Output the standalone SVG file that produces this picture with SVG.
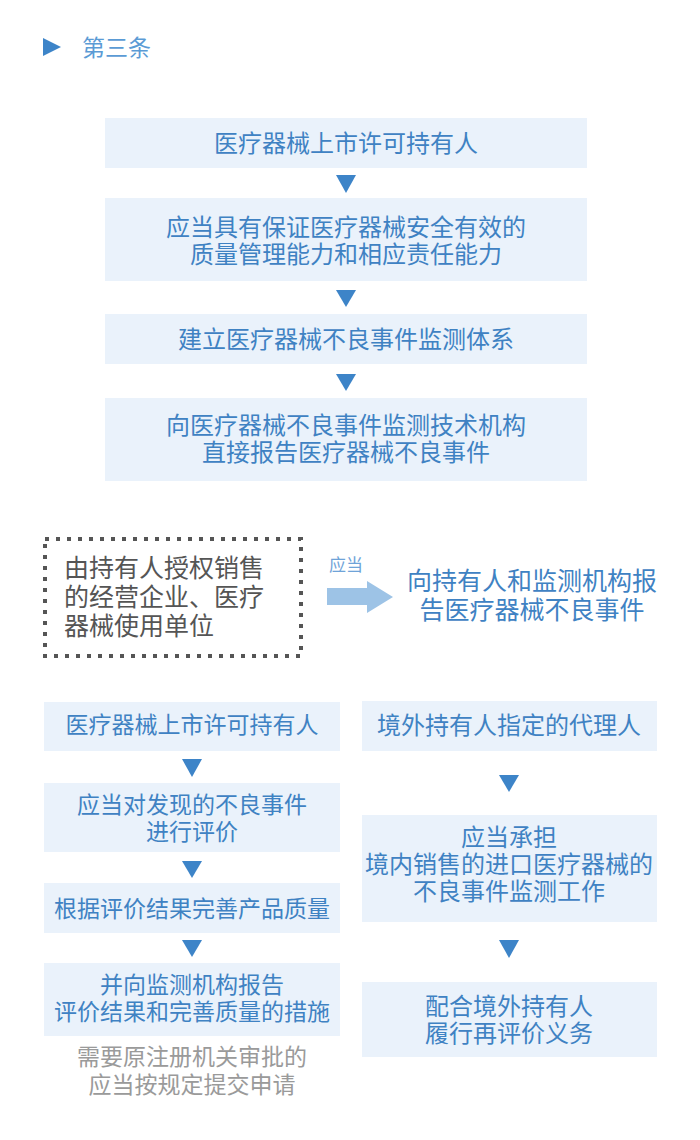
<svg xmlns="http://www.w3.org/2000/svg" width="700" height="1140" viewBox="0 0 700 1140">
<defs>
<style>
.box{fill:#eaf2fb}
.t{font-family:"Liberation Sans","Noto Sans CJK SC",sans-serif;font-size:23px;fill:#3f82c3;text-anchor:middle;dominant-baseline:central}
.tl{font-size:24px}
.tri{fill:#3d84c8}
.gray{fill:#9a9a9a}
.dark{fill:#555555;text-anchor:start;font-size:25px}
</style>
</defs>
<rect width="700" height="1140" fill="#ffffff"/>
<g id="title">
<polygon points="43,38 61,47 43,56" fill="#3d84c8"/>
<text class="t" x="82" y="48" style="text-anchor:start;fill:#5b9bd5">第三条</text>
</g>
<g id="n1"><rect class="box" x="105" y="118" width="482" height="50"/><text class="t tl" x="346" y="143">医疗器械上市许可持有人</text></g>
<g id="n2"><rect class="box" x="105" y="198" width="482" height="83"/><text class="t tl" x="346" y="227">应当具有保证医疗器械安全有效的</text><text class="t tl" x="346" y="254">质量管理能力和相应责任能力</text></g>
<g id="n3"><rect class="box" x="105" y="314" width="482" height="50"/><text class="t tl" x="346" y="339">建立医疗器械不良事件监测体系</text></g>
<g id="n4"><rect class="box" x="105" y="398" width="482" height="83"/><text class="t tl" x="346" y="425">向医疗器械不良事件监测技术机构</text><text class="t tl" x="346" y="452">直接报告医疗器械不良事件</text></g>
<g id="n5">
<rect x="45" y="539" width="256" height="117" fill="none" stroke="#555555" stroke-width="4" stroke-dasharray="4 7"/>
<text class="t dark" x="64" y="568">由持有人授权销售</text>
<text class="t dark" x="64" y="597">的经营企业、医疗</text>
<text class="t dark" x="64" y="626">器械使用单位</text>
</g>
<g id="n6"><text class="t" x="532" y="581" style="font-size:25px">向持有人和监测机构报</text><text class="t" x="532" y="610" style="font-size:25px">告医疗器械不良事件</text></g>
<g id="l1"><rect class="box" x="44" y="702" width="296" height="49"/><text class="t" x="192" y="725">医疗器械上市许可持有人</text></g>
<g id="l2"><rect class="box" x="44" y="783" width="296" height="69"/><text class="t" x="192" y="805">应当对发现的不良事件</text><text class="t" x="192" y="832">进行评价</text></g>
<g id="l3"><rect class="box" x="44" y="883" width="296" height="50"/><text class="t" x="192" y="909">根据评价结果完善产品质量</text></g>
<g id="l4"><rect class="box" x="44" y="963" width="296" height="73"/><text class="t" x="192" y="985">并向监测机构报告</text><text class="t" x="192" y="1012">评价结果和完善质量的措施</text></g>
<g id="note"><text class="t gray" x="192" y="1057">需要原注册机关审批的</text><text class="t gray" x="192" y="1085">应当按规定提交申请</text></g>
<g id="r1"><rect class="box" x="362" y="701" width="295" height="50"/><text class="t tl" x="509" y="725">境外持有人指定的代理人</text></g>
<g id="r2"><rect class="box" x="362" y="815" width="295" height="107"/><text class="t tl" x="509" y="837">应当承担</text><text class="t tl" x="509" y="864">境内销售的进口医疗器械的</text><text class="t tl" x="509" y="891">不良事件监测工作</text></g>
<g id="r3"><rect class="box" x="362" y="982" width="295" height="75"/><text class="t tl" x="509" y="1006">配合境外持有人</text><text class="t tl" x="509" y="1033">履行再评价义务</text></g>
<g id="connectors">
<polygon class="tri" points="336,175 356,175 346,193"/>
<polygon class="tri" points="336,290 356,290 346,307"/>
<polygon class="tri" points="336,374 356,374 346,391"/>
<polygon class="tri" points="182,759 202,759 192,777"/>
<polygon class="tri" points="182,861 202,861 192,878"/>
<polygon class="tri" points="182,940 202,940 192,957"/>
<polygon class="tri" points="499,775 519,775 509,792"/>
<polygon class="tri" points="499,940 519,940 509,958"/>
<polygon points="327,588 367,588 367,581 393,597 367,613 367,605 327,605" fill="#9dc3e6"/>
<text class="t" x="346" y="565" style="font-size:17px;fill:#6fa3d8">应当</text>
</g>
</svg>
